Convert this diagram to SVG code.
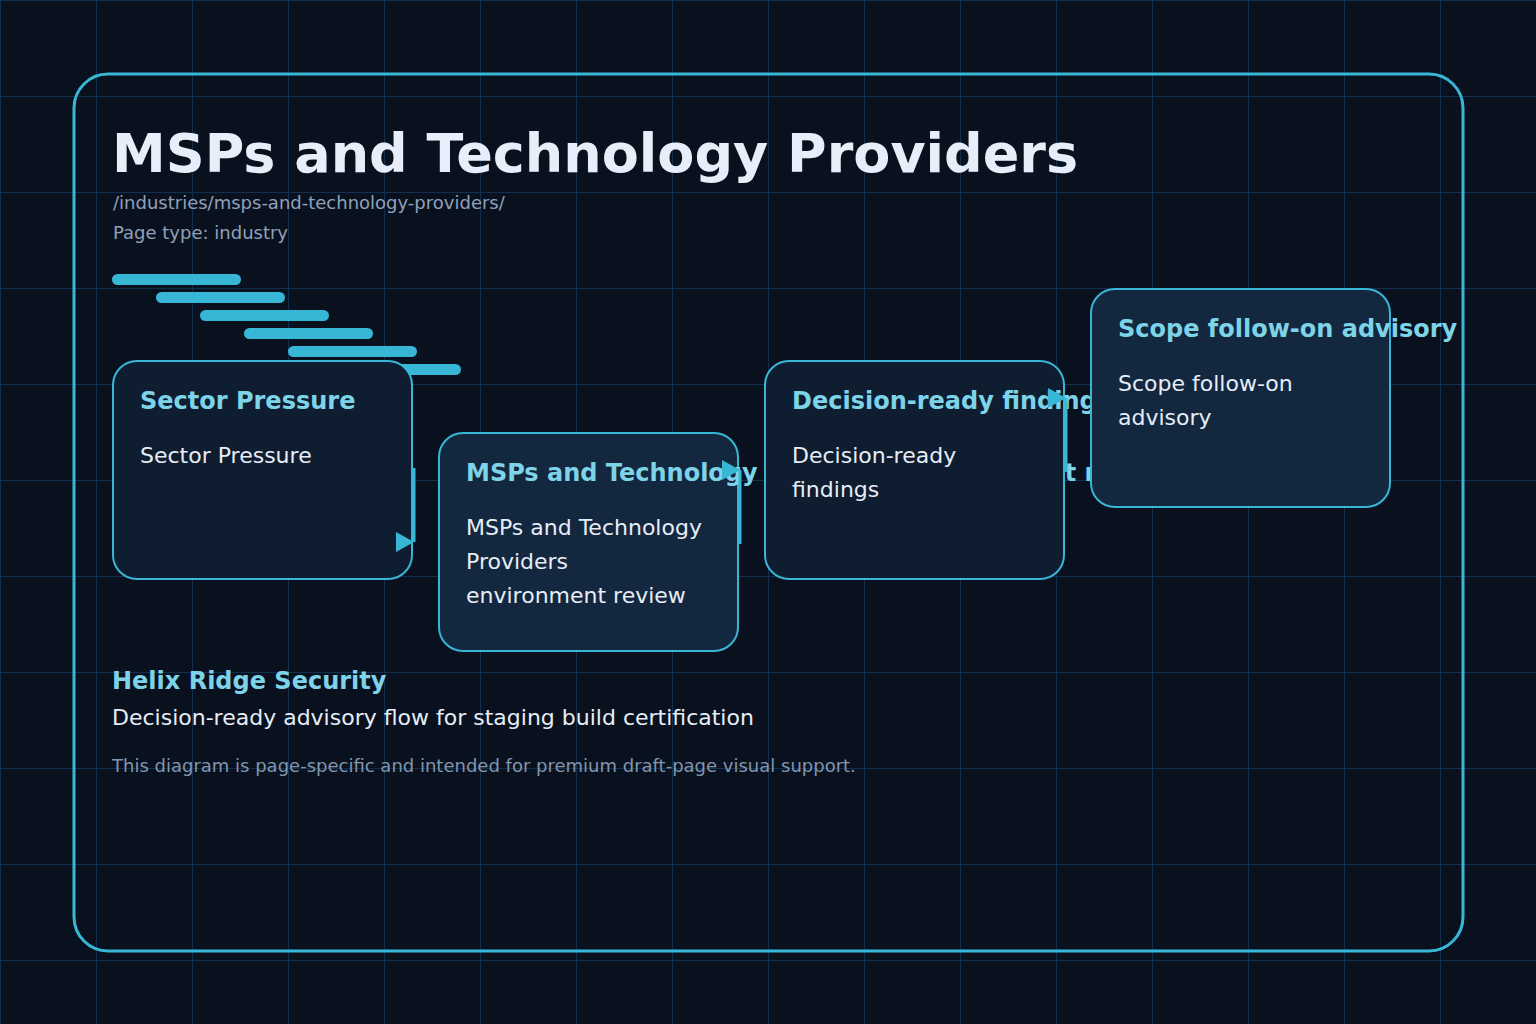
<svg xmlns="http://www.w3.org/2000/svg" width="1536" height="1024" viewBox="0 0 1536 1024">
  <defs>
    <pattern id="grid" width="96" height="96" patternUnits="userSpaceOnUse">
      <path d="M0.5 0 V96 M0 0.5 H96" fill="none" stroke="#12304d" stroke-width="1"/>
    </pattern>
    <marker id="arrow" markerUnits="userSpaceOnUse" markerWidth="18" markerHeight="20" viewBox="0 0 18 20" refX="18" refY="10" orient="0">
      <path d="M0 0 L18 10 L0 20 Z" fill="#38b6d6"/>
    </marker>
    <style>
      .frame { fill: none; stroke: #38b6d6; stroke-width: 3; }
      .bar { fill: #38b6d6; }
      .node-a { fill: #0f1d30; stroke: #38b6d6; stroke-width: 2; }
      .node-b { fill: #13283f; stroke: #38b6d6; stroke-width: 2; }
      .ntitle { font-family: "DejaVu Sans", sans-serif; font-weight: bold; font-size: 24px; fill: #7dd3e8; }
      .nbody { font-family: "DejaVu Sans", sans-serif; font-size: 22px; fill: #e6edf7; }
      .title { font-family: "DejaVu Sans", sans-serif; font-weight: bold; font-size: 54px; fill: #e8eef9; }
      .meta { font-family: "DejaVu Sans", sans-serif; font-size: 18px; fill: #8fa1ba; }
      .brand { font-family: "DejaVu Sans", sans-serif; font-weight: bold; font-size: 24px; fill: #7dd3e8; }
      .tagline { font-family: "DejaVu Sans", sans-serif; font-size: 22px; fill: #e6edf7; }
      .note { font-family: "DejaVu Sans", sans-serif; font-size: 18px; fill: #8096b0; }
      .conn { fill: none; stroke: #38b6d6; stroke-width: 3; marker-end: url(#arrow); }
    </style>
  </defs>
  <rect x="0" y="0" width="1536" height="1024" fill="#0a111e"/>
  <rect x="0" y="0" width="1536" height="1024" fill="url(#grid)"/>
  <rect class="frame" x="74" y="74" width="1389" height="877" rx="34"/>

  <text class="title" x="112" y="172">MSPs and Technology Providers</text>
  <text class="meta" x="113" y="209">/industries/msps-and-technology-providers/</text>
  <text class="meta" x="113" y="239">Page type: industry</text>

  <g id="bars">
    <rect class="bar" x="112" y="274" width="129" height="11" rx="5.5"/>
    <rect class="bar" x="156" y="292" width="129" height="11" rx="5.5"/>
    <rect class="bar" x="200" y="310" width="129" height="11" rx="5.5"/>
    <rect class="bar" x="244" y="328" width="129" height="11" rx="5.5"/>
    <rect class="bar" x="288" y="346" width="129" height="11" rx="5.5"/>
    <rect class="bar" x="332" y="364" width="129" height="11" rx="5.5"/>
  </g>

  <g id="node-1">
    <rect class="node-a" x="113" y="361" width="299" height="218" rx="24"/>
    <text class="ntitle" x="140" y="409">Sector Pressure</text>
    <text class="nbody" x="140" y="463">Sector Pressure</text>
  </g>
  <g id="node-2">
    <rect class="node-b" x="439" y="433" width="299" height="218" rx="24"/>
    <text class="ntitle" x="466" y="481">MSPs and Technology Providers environment review</text>
    <text class="nbody" x="466" y="535">MSPs and Technology</text>
    <text class="nbody" x="466" y="569">Providers</text>
    <text class="nbody" x="466" y="603">environment review</text>
  </g>
  <g id="node-3">
    <rect class="node-a" x="765" y="361" width="299" height="218" rx="24"/>
    <text class="ntitle" x="792" y="409">Decision-ready findings</text>
    <text class="nbody" x="792" y="463">Decision-ready</text>
    <text class="nbody" x="792" y="497">findings</text>
  </g>
  <g id="node-4">
    <rect class="node-b" x="1091" y="289" width="299" height="218" rx="24"/>
    <text class="ntitle" x="1118" y="337">Scope follow-on advisory</text>
    <text class="nbody" x="1118" y="391">Scope follow-on</text>
    <text class="nbody" x="1118" y="425">advisory</text>
  </g>

  <g id="connectors">
    <path class="conn" d="M414 468 V542"/>
    <path class="conn" d="M740 544 V470"/>
    <path class="conn" d="M1066 472 V398"/>
  </g>

  <text class="brand" x="112" y="689">Helix Ridge Security</text>
  <text class="tagline" x="112" y="725">Decision-ready advisory flow for staging build certification</text>
  <text class="note" x="112" y="772">This diagram is page-specific and intended for premium draft-page visual support.</text>
</svg>
